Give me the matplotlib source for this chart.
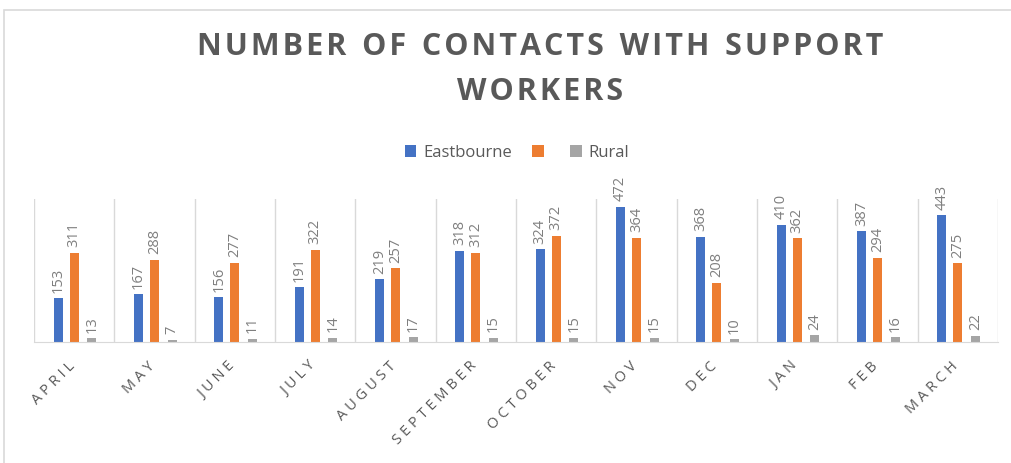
import numpy as np
import matplotlib
matplotlib.use("Agg")
from matplotlib import pyplot as plt
from matplotlib.patches import Rectangle
from matplotlib.transforms import ScaledTranslation

months = ["APRIL", "MAY", "JUNE", "JULY", "AUGUST", "SEPTEMBER", "OCTOBER",
          "NOV", "DEC", "JAN", "FEB", "MARCH"]
eastbourne = [153, 167, 156, 191, 219, 318, 324, 472, 368, 410, 387, 443]
unnamed = [311, 288, 277, 322, 257, 312, 372, 364, 208, 362, 294, 275]
rural = [13, 7, 11, 14, 17, 15, 15, 15, 10, 24, 16, 22]

plt.rcParams['font.family'] = ['Open Sans', 'DejaVu Sans']


def spaced(s, gap="\u2009"):
    return "  ".join(gap.join(w) for w in s.split(" "))


W, H = 1011, 463
fig = plt.figure(figsize=(W / 100, H / 100), dpi=100)

# chart frame
fig.patches.append(Rectangle((4 / W, -0.1), 1.2, (H - 9.5) / H + 0.1,
                             transform=fig.transFigure, fill=False,
                             edgecolor="#d9d9d9", linewidth=1.2))

ax = fig.add_axes([34 / W, (H - 342) / H, (998 - 34) / W, 143 / H])

x = np.arange(len(months))
bw = 0.11
series = [(eastbourne, "#4472c4", -0.2, "Eastbourne"),
          (unnamed, "#ed7d31", 0.0, ""),
          (rural, "#a5a5a5", 0.22, "Rural")]
handles = []
for vals, col, off, name in series:
    bars = ax.bar(x + off, vals, bw, color=col)
    handles.append(bars)
    for b, v in zip(bars, vals):
        ax.annotate(str(v), (b.get_x() + b.get_width() / 2, b.get_height()),
                    xytext=(0, 4), textcoords="offset points",
                    rotation=90, ha="center", va="bottom",
                    fontsize=10.5, color="#7f7f7f")

ax.set_xlim(-0.5, len(months) - 0.5)
ax.set_ylim(0, 500)
ax.set_yticks([])
for s in ["top", "right", "left"]:
    ax.spines[s].set_visible(False)
ax.spines["bottom"].set_color("#d9d9d9")
for b in np.arange(-0.5, len(months), 1.0):
    ax.axvline(b, color="#d9d9d9", linewidth=1, zorder=0)

ax.set_xticks(x)
ax.set_xticklabels([spaced(m, "\u2009\u200a") for m in months], rotation=45,
                   ha="right", rotation_mode="anchor", fontsize=10.5,
                   color="#595959")
ax.tick_params(axis="x", length=0, pad=12)
shift = ScaledTranslation(-0.07, 0, fig.dpi_scale_trans)
for lab in ax.get_xticklabels():
    lab.set_transform(lab.get_transform() + shift)

fig.text(540 / W, 1 - 55 / H, spaced("NUMBER OF CONTACTS WITH SUPPORT", "\u200a"),
         ha="center", va="baseline", fontsize=22, fontweight="bold",
         color="#595959")
fig.text(540 / W, 1 - 100 / H, spaced("WORKERS", "\u200a"),
         ha="center", va="baseline", fontsize=22, fontweight="bold",
         color="#595959")

fig.legend(handles, [s[3] for s in series], loc="center",
           bbox_to_anchor=(517 / W, 1 - 153 / H), ncol=3,
           frameon=False, fontsize=12, handlelength=0.7, handleheight=0.7,
           columnspacing=1.2, handletextpad=0.4, labelcolor="#595959")

fig.savefig("out.png", dpi=100)
